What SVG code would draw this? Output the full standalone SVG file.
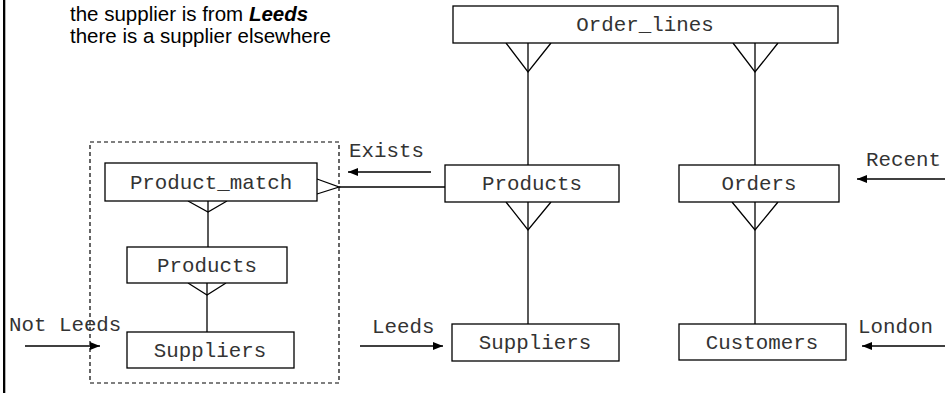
<svg xmlns="http://www.w3.org/2000/svg" width="945" height="393" viewBox="0 0 945 393">
<defs>
<style>
.box{fill:#fff;stroke:#000;stroke-width:1.3}
.ln{fill:none;stroke:#000;stroke-width:1.3}
.arr{fill:none;stroke:#000;stroke-width:1.3;marker-end:url(#ah)}
.t{font-family:"Liberation Mono","Courier New",monospace;font-size:20.8px;fill:#333}
.m{text-anchor:middle}
.note{font-family:"Liberation Sans",Arial,sans-serif;font-size:20.5px;fill:#000}
</style>
<marker id="ah" viewBox="0 0 10 8" refX="10" refY="4" markerWidth="10" markerHeight="8" markerUnits="userSpaceOnUse" orient="auto">
<path d="M0,0 L10,4 L0,8 Z" fill="#000"/>
</marker>
</defs>
<rect x="0" y="0" width="945" height="393" fill="#fff"/>
<rect x="3" y="0" width="2.3" height="393" fill="#000"/>
<g id="note">
<text class="note" x="70" y="21">the supplier is from <tspan font-weight="bold" font-style="italic">Leeds</tspan></text>
<text class="note" x="70" y="43">there is a supplier elsewhere</text>
</g>
<g id="subquery">
<rect x="90" y="142" width="249" height="241" fill="none" stroke="#000" stroke-width="1.2" stroke-dasharray="4,3"/>
</g>
<g id="connectors">
<line class="ln" x1="528" y1="43" x2="528" y2="165"/>
<polyline class="ln" points="506,43 528,72 551,43"/>
<line class="ln" x1="755" y1="43" x2="755" y2="165"/>
<polyline class="ln" points="733,43 755,72 778,43"/>
<line class="ln" x1="528" y1="202" x2="528" y2="324"/>
<polyline class="ln" points="506,202 528,230 551,202"/>
<line class="ln" x1="755" y1="202" x2="755" y2="324"/>
<polyline class="ln" points="732,202 755,230 778,202"/>
<line class="ln" x1="339" y1="187" x2="445" y2="187"/>
<polyline class="ln" points="317,179 339,187 317,194"/>
<line class="ln" x1="208" y1="201" x2="208" y2="247"/>
<polyline class="ln" points="188,201 208,212 227,201"/>
<line class="ln" x1="207" y1="283" x2="207" y2="332"/>
<polyline class="ln" points="188,283 207,295 226,283"/>
<line class="arr" x1="431" y1="172" x2="348" y2="172"/>
<line class="arr" x1="945" y1="179" x2="857" y2="179"/>
<line class="arr" x1="945" y1="346" x2="862" y2="346"/>
<line class="arr" x1="360" y1="346" x2="443" y2="346"/>
<line class="arr" x1="25" y1="346" x2="100" y2="346"/>
<text class="t" x="349" y="157">Exists</text>
<text class="t" x="866" y="166">Recent</text>
<text class="t" x="858" y="333">London</text>
<text class="t" x="372" y="333">Leeds</text>
<text class="t" x="9" y="331">Not Leeds</text>
</g>
<g id="order_lines">
<rect class="box" x="453" y="6" width="385" height="37"/>
<text class="t m" x="645" y="31">Order_lines</text>
</g>
<g id="products">
<rect class="box" x="445" y="165" width="174" height="37"/>
<text class="t m" x="532" y="190">Products</text>
</g>
<g id="orders">
<rect class="box" x="679" y="165" width="160" height="37"/>
<text class="t m" x="759" y="190">Orders</text>
</g>
<g id="suppliers">
<rect class="box" x="452" y="324" width="167" height="37"/>
<text class="t m" x="535" y="349">Suppliers</text>
</g>
<g id="customers">
<rect class="box" x="679" y="324" width="167" height="36"/>
<text class="t m" x="762" y="349">Customers</text>
</g>
<g id="product_match">
<rect class="box" x="105" y="163" width="212" height="38"/>
<text class="t m" x="211" y="189">Product_match</text>
</g>
<g id="products_inner">
<rect class="box" x="127" y="247" width="160" height="36"/>
<text class="t m" x="207" y="272">Products</text>
</g>
<g id="suppliers_inner">
<rect class="box" x="127" y="332" width="167" height="36"/>
<text class="t m" x="210" y="357">Suppliers</text>
</g>
</svg>
